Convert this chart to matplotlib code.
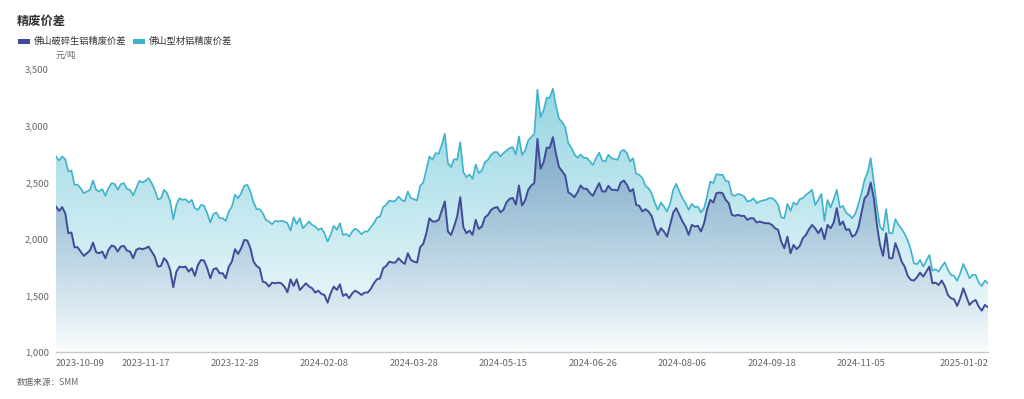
import numpy as np
import pandas as pd
import matplotlib
matplotlib.use("Agg")
import matplotlib.pyplot as plt
from matplotlib.patches import Polygon, Rectangle
from matplotlib.ticker import FuncFormatter

plt.rcParams['font.family'] = ['Noto Sans CJK SC', 'DejaVu Sans']

# ---------------- data ----------------
title = "精废价差"
series_names = ["佛山破碎生铝精废价差", "佛山型材铝精废价差"]
unit = "元/吨"
source = "数据来源：SMM"

start_date = "2023-10-09"
end_date = "2025-01-02"
holidays = ["2024-01-01", "2024-02-09", "2024-02-12", "2024-02-13", "2024-02-14",
            "2024-02-15", "2024-02-16", "2024-04-04", "2024-04-05", "2024-05-01",
            "2024-05-02", "2024-05-03", "2024-06-10", "2024-09-16", "2024-09-17",
            "2024-10-01", "2024-10-02", "2024-10-03", "2024-10-04", "2024-10-07",
            "2025-01-01"]

crushed = [  # 佛山破碎生铝精废价差
    2286, 2248, 2281, 2228, 2051, 2057, 1927, 1927, 1889, 1851, 1874, 1898, 1968, 1883, 1874,
    1889, 1830, 1904, 1942, 1933, 1889, 1933, 1939, 1898, 1889, 1830, 1904, 1918, 1910, 1918,
    1933, 1889, 1845, 1756, 1762, 1830, 1801, 1727, 1574, 1712, 1756, 1750, 1756, 1712,
    1742, 1674, 1771, 1815, 1809, 1742, 1653, 1733, 1742, 1698, 1698, 1653, 1756, 1801, 1910,
    1868, 1918, 1992, 1986, 1918, 1801, 1762, 1742, 1624, 1615, 1580, 1615, 1609, 1615, 1609,
    1580, 1530, 1644, 1586, 1644, 1550, 1580, 1609, 1580, 1565, 1527, 1544, 1515,
    1506, 1438, 1521, 1580, 1550, 1600, 1497, 1515, 1477, 1521, 1544, 1527, 1506, 1527, 1527,
    1559, 1609, 1644, 1653, 1742, 1762, 1800, 1792, 1792, 1830, 1800, 1780, 1874, 1815, 1800,
    1792, 1927, 1957, 2051, 2183, 2154, 2154, 2169, 2251, 2331, 2066, 2036, 2110,
    2200, 2369, 2104, 2051, 2074, 2036, 2169, 2089, 2110, 2192, 2213, 2257, 2275, 2281, 2236,
    2257, 2325, 2354, 2363, 2304, 2472, 2295, 2340, 2434, 2472, 2493, 2884, 2619, 2678, 2805,
    2805, 2899, 2752, 2634, 2599, 2560, 2413, 2393, 2369, 2413, 2472, 2443, 2443,
    2405, 2381, 2440, 2493, 2419, 2419, 2469, 2434, 2434, 2428, 2498, 2516, 2478, 2419, 2440,
    2301, 2292, 2242, 2263, 2242, 2204, 2110, 2036, 2095, 2066, 2021, 2124, 2233, 2272, 2213,
    2154, 2110, 2036, 2124, 2110, 2116, 2066, 2139, 2263, 2345, 2322, 2404, 2410, 2404,
    2345, 2316, 2213, 2204, 2213, 2204, 2204, 2169, 2183, 2183, 2145, 2154, 2145, 2139, 2139,
    2124, 2095, 2080, 1977, 1918, 2021, 1874, 1948, 1910, 1939, 2007, 2036, 2086, 2124, 2095,
    2051, 2095, 1998, 2124, 2095, 2145, 2272, 2124, 2154, 2080, 2086, 2021, 2036,
    2100, 2228, 2360, 2390, 2498, 2360, 2124, 1948, 1851, 2051, 1830, 1830, 1963, 1889, 1801,
    1756, 1674, 1639, 1633, 1662, 1703, 1668, 1712, 1756, 1609, 1615, 1594, 1633, 1585, 1506,
    1477, 1468, 1409, 1477, 1565, 1491, 1418, 1447, 1462, 1403, 1368, 1418, 1397,
]

profile = [  # 佛山型材铝精废价差
    2728, 2693, 2728, 2705, 2596, 2605, 2478, 2478, 2448, 2404, 2419, 2434, 2516, 2434, 2419,
    2440, 2381, 2448, 2493, 2487, 2434, 2484, 2493, 2440, 2434, 2384, 2448, 2513, 2499, 2513,
    2537, 2493, 2434, 2351, 2357, 2434, 2404, 2331, 2175, 2301, 2360, 2345, 2351, 2322,
    2345, 2272, 2257, 2301, 2292, 2228, 2145, 2222, 2233, 2183, 2183, 2160, 2242, 2286, 2390,
    2360, 2404, 2469, 2478, 2419, 2322, 2263, 2263, 2228, 2169, 2154, 2130, 2160, 2154, 2160,
    2154, 2139, 2074, 2192, 2133, 2183, 2095, 2124, 2154, 2124, 2110, 2080, 2095,
    2051, 1977, 2036, 2116, 2080, 2139, 2036, 2045, 2022, 2066, 2092, 2072, 2042, 2066, 2066,
    2104, 2139, 2189, 2198, 2281, 2301, 2340, 2331, 2337, 2375, 2345, 2331, 2419, 2360, 2351,
    2340, 2469, 2498, 2610, 2728, 2699, 2758, 2752, 2831, 2928, 2669, 2634, 2705,
    2699, 2855, 2590, 2546, 2569, 2531, 2658, 2581, 2605, 2678, 2699, 2743, 2767, 2767, 2728,
    2758, 2781, 2802, 2811, 2746, 2905, 2743, 2781, 2870, 2899, 2928, 3317, 3076, 3135, 3247,
    3247, 3326, 3179, 3061, 3032, 2987, 2846, 2805, 2746, 2716, 2746, 2716, 2716,
    2684, 2654, 2713, 2763, 2693, 2684, 2743, 2713, 2705, 2699, 2772, 2787, 2758, 2684, 2713,
    2575, 2566, 2537, 2469, 2448, 2404, 2322, 2257, 2322, 2286, 2242, 2316, 2434, 2487, 2419,
    2360, 2316, 2257, 2310, 2281, 2286, 2233, 2272, 2381, 2507, 2493, 2572, 2566, 2566,
    2512, 2507, 2390, 2381, 2398, 2390, 2375, 2331, 2337, 2360, 2316, 2331, 2340, 2345, 2360,
    2360, 2340, 2301, 2192, 2183, 2310, 2248, 2322, 2301, 2351, 2360, 2390, 2410, 2434, 2301,
    2345, 2398, 2160, 2345, 2278, 2351, 2434, 2278, 2292, 2233, 2213, 2183, 2222,
    2305, 2404, 2522, 2587, 2714, 2499, 2286, 2110, 2074, 2263, 2051, 2051, 2175, 2124, 2089,
    2045, 1986, 1904, 1786, 1777, 1815, 1756, 1806, 1859, 1721, 1733, 1712, 1756, 1795, 1727,
    1683, 1674, 1630, 1697, 1780, 1721, 1653, 1683, 1683, 1615, 1585, 1633, 1609,
]

y_ticks = [1000, 1500, 2000, 2500, 3000, 3500]
label_step = 29

# ---------------- categories ----------------
dates = pd.bdate_range(start_date, end_date)
dates = dates[~dates.isin(pd.to_datetime(holidays))]
cats = [d.strftime("%Y-%m-%d") for d in dates]
n = min(len(cats), len(crushed), len(profile))
cats = cats[:n]
x = np.arange(n)
y1 = np.array(crushed[:n], dtype=float)
y2 = np.array(profile[:n], dtype=float)

# ---------------- figure ----------------
W, H = 1024, 399
fig = plt.figure(figsize=(W / 100, H / 100), dpi=100)
ax = fig.add_axes([56 / W, 1 - 352.3 / H, (988 - 56) / W, (352.3 - 69) / H])

c_dark = "#414b99"
c_cyan = "#3db3cb"
ymin, ymax = y_ticks[0], y_ticks[-1]


def gradient_fill(xv, yv, rgb, a_top, a_bot, z):
    verts = [(xv[0], ymin)] + list(zip(xv, yv)) + [(xv[-1], ymin)]
    poly = Polygon(verts, closed=True, facecolor="none", edgecolor="none")
    ax.add_patch(poly)
    top = yv.max()
    grad = np.zeros((256, 1, 4))
    grad[:, :, 0] = rgb[0] / 255
    grad[:, :, 1] = rgb[1] / 255
    grad[:, :, 2] = rgb[2] / 255
    grad[:, 0, 3] = np.linspace(a_bot, a_top, 256)
    im = ax.imshow(grad, extent=[xv[0], xv[-1], ymin, top], aspect="auto",
                   origin="lower", zorder=z, interpolation="bilinear")
    im.set_clip_path(poly)


gradient_fill(x, y2, (61, 179, 203), 0.55, 0.03, 1)
gradient_fill(x, y1, (64, 85, 150), 0.38, 0.0, 2)

ax.plot(x, y2, color=c_cyan, lw=1.2, zorder=3)
ax.plot(x, y1, color=c_dark, lw=1.4, zorder=4)

ax.set_xlim(0, n - 1)
ax.set_ylim(ymin, ymax)

# axes styling
for s in ["top", "right", "left"]:
    ax.spines[s].set_visible(False)
ax.spines["bottom"].set_color("#c8c8c8")
ax.spines["bottom"].set_linewidth(1.0)
ax.tick_params(axis="both", length=0, labelsize=6.8, labelcolor="#666666")
ax.tick_params(axis="x", pad=5)
ax.tick_params(axis="y", pad=5)
ax.set_yticks(y_ticks)
ax.yaxis.set_major_formatter(FuncFormatter(lambda v, p: f"{int(v):,}"))

tick_idx = list(range(0, n, label_step))
if n - 1 - tick_idx[-1] < 20:
    tick_idx = tick_idx[:-1]
tick_idx.append(n - 1)
ax.set_xticks(tick_idx)
ax.set_xticklabels([cats[i] for i in tick_idx])
lbls = ax.get_xticklabels()
lbls[0].set_ha("left")
lbls[-1].set_ha("right")

# texts
fig.text(17 / W, 1 - 21 / H, title, fontsize=8.8, fontweight="bold", color="#333333",
         ha="left", va="center")
fig.text(56 / W, 1 - 55 / H, unit, fontsize=6.2, color="#666666", ha="left", va="center")
fig.text(17 / W, 1 - 383 / H, source, fontsize=6.2, color="#666666", ha="left", va="center")

# legend
leg_items = [(18, c_dark, series_names[0]), (133, c_cyan, series_names[1])]
for lx, col, name in leg_items:
    fig.patches.append(Rectangle((lx / W, 1 - 43.5 / H), 12 / W, 5 / H, transform=fig.transFigure,
                                 facecolor=col, edgecolor="none"))
    fig.text((lx + 16) / W, 1 - 41 / H, name, fontsize=6.7, color="#333333",
             ha="left", va="center")

fig.savefig("out.png", dpi=100)
print(n, cats[-1])
